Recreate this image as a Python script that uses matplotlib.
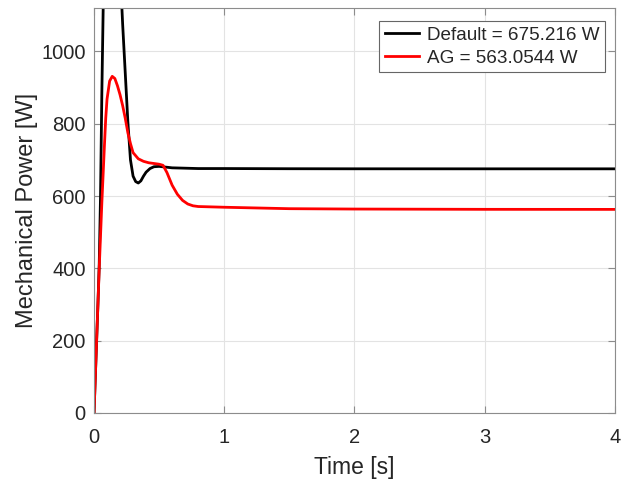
import matplotlib
matplotlib.use("Agg")
import matplotlib.pyplot as plt

# time [s] and mechanical power [W]
t_default = [0, 0.01, 0.02, 0.03, 0.04, 0.05, 0.06, 0.07, 0.08, 0.10, 0.12, 0.14,
             0.16, 0.18, 0.20, 0.22, 0.24, 0.26, 0.28, 0.30, 0.32, 0.34, 0.36,
             0.38, 0.40, 0.43, 0.46, 0.50, 0.55, 0.60, 0.70, 0.80, 1.0, 1.5,
             2.0, 3.0, 4.0]
p_default = [0, 100, 200, 300, 410, 600, 880, 1110, 1330, 1600, 1720, 1700,
             1580, 1420, 1230, 1075, 940, 805, 700, 655, 640, 636, 642,
             655, 666, 676, 681, 682, 680, 678, 677, 676, 676, 675.5,
             675.3, 675.22, 675.216]

t_ag = [0, 0.02, 0.04, 0.06, 0.08, 0.09, 0.10, 0.12, 0.14, 0.16, 0.18, 0.20, 0.22,
        0.24, 0.26, 0.28, 0.30, 0.34, 0.38, 0.42, 0.46, 0.50, 0.53, 0.56,
        0.60, 0.64, 0.68, 0.72, 0.76, 0.80, 1.0, 1.5, 2.0, 3.0, 4.0]
p_ag = [0, 200, 400, 580, 740, 815, 868, 918, 931, 925, 905, 880, 850,
        815, 775, 745, 720, 703, 696, 692, 690, 688, 685, 665,
        630, 605, 588, 578, 573, 571, 569, 565, 564, 563.2, 563.0544]

labels = ["Default = 675.216 W", "AG = 563.0544 W"]

plt.rcParams["font.family"] = ["Liberation Sans", "DejaVu Sans"]

fig = plt.figure(figsize=(6.28, 4.79), dpi=100)
ax = fig.add_axes([0.1497, 0.1378, 0.8293, 0.8455])

ax.plot(t_default, p_default, color="black", linewidth=2, label=labels[0])
ax.plot(t_ag, p_ag, color="red", linewidth=2, label=labels[1])

ax.set_xlim(0, 4)
ax.set_ylim(0, 1120)
ax.set_xticks([0, 1, 2, 3, 4])
ax.set_yticks([0, 200, 400, 600, 800, 1000])
ax.grid(True, color="#e3e3e3", linewidth=0.8)
ax.set_axisbelow(True)

for s in ax.spines.values():
    s.set_color("#8c8c8c")
    s.set_linewidth(0.8)
ax.tick_params(direction="in", top=True, right=True, length=5,
               color="#8c8c8c", labelsize=14.5, labelcolor="#262626", pad=6)
ax.tick_params(axis="x", pad=11)

ax.set_xlabel("Time [s]", fontsize=16.5, color="#262626", labelpad=6)
ax.set_ylabel("Mechanical Power [W]", fontsize=17, color="#262626", labelpad=2)

# legend box placed in axes fraction, upper right corner
leg = ax.legend(loc="upper right", bbox_to_anchor=(0.981, 0.968),
                fontsize=13.6, fancybox=False, framealpha=1,
                edgecolor="#666666", handlelength=1.8, borderaxespad=0,
                labelspacing=0.3, handletextpad=0.4, borderpad=0.3)
leg.get_frame().set_linewidth(0.8)
for txt in leg.get_texts():
    txt.set_color("#262626")

fig.savefig("out.png", dpi=100)
